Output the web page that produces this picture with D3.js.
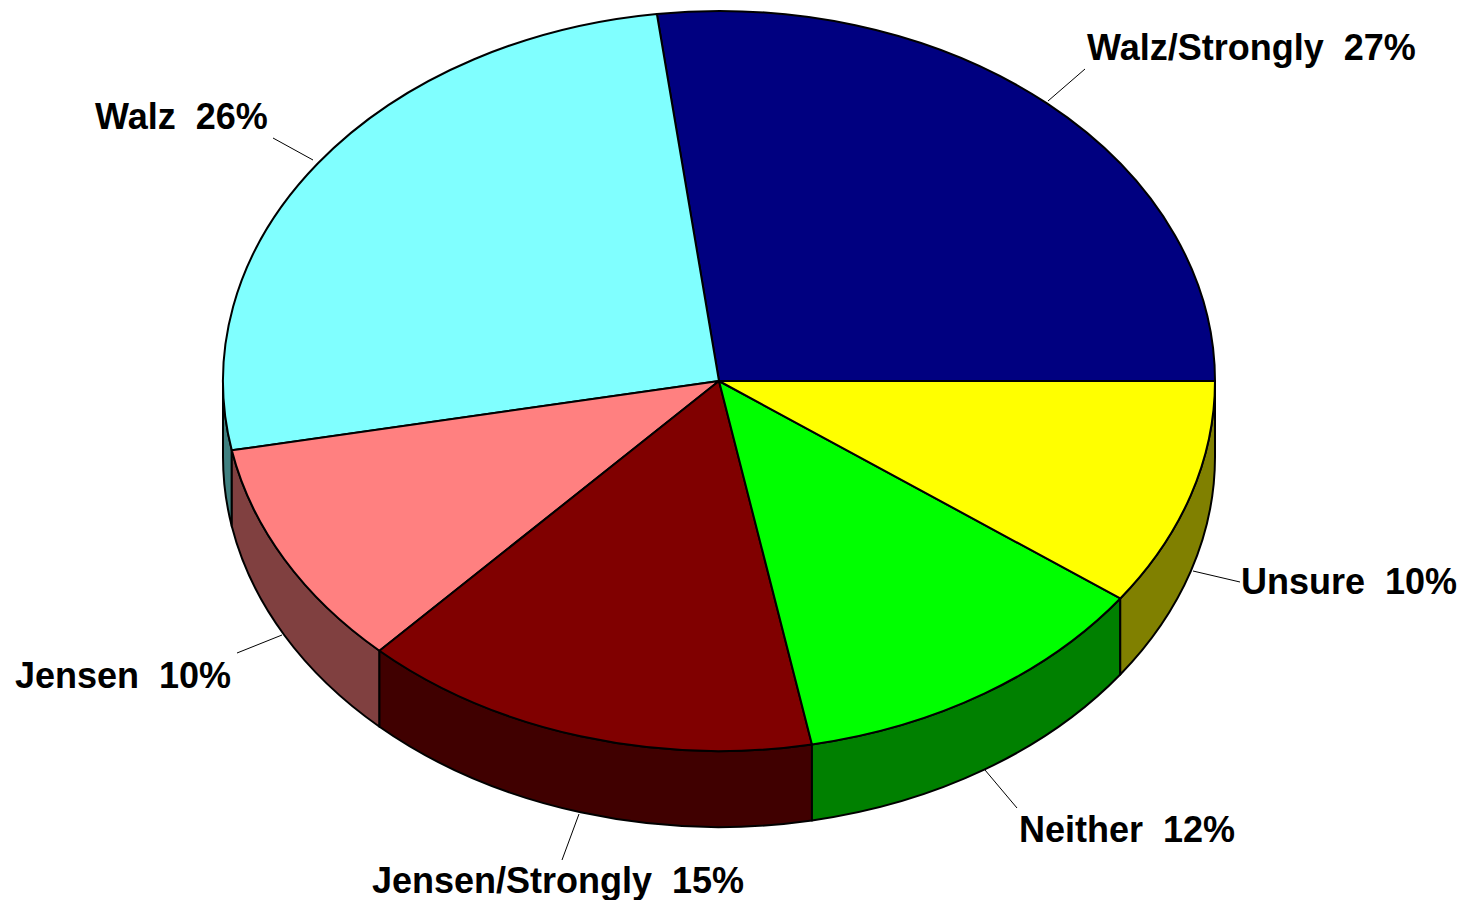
<!DOCTYPE html>
<html>
<head>
<meta charset="utf-8">
<script src="https://cdn.jsdelivr.net/npm/d3@7"></script>
<style>
  html, body { margin: 0; padding: 0; background: #fff; }
  svg { display: block; }
  text { font-family: "Liberation Sans", Arial, sans-serif; font-weight: bold; white-space: pre; }
</style>
</head>
<body>
<svg id="chart" width="1470" height="900"></svg>
<script>
// Survey responses
const categories = ["Walz/Strongly", "Walz", "Jensen", "Jensen/Strongly", "Neither", "Unsure"];
const values = [27, 26, 10, 15, 12, 10];
const labels = ["Walz/Strongly  27%", "Walz  26%", "Jensen  10%", "Jensen/Strongly  15%", "Neither  12%", "Unsure  10%"];
const topColors = ["#000080", "#80FFFF", "#FF8080", "#800000", "#00FF00", "#FFFF00"];
const sideColors = ["#000040", "#408080", "#804040", "#400000", "#008000", "#808000"];

// Label anchor points and leader lines (label box start, leader from/to)
const labelPos = [
  { x: 1087, y: 60, lx1: 1048, ly1: 101, lx2: 1085, ly2: 69 },
  { x: 95, y: 129, lx1: 313, ly1: 160, lx2: 273, ly2: 138 },
  { x: 15, y: 688, lx1: 282, ly1: 635, lx2: 237, ly2: 653 },
  { x: 372, y: 893, lx1: 579, ly1: 814, lx2: 562, ly2: 860 },
  { x: 1019, y: 842, lx1: 985, ly1: 770, lx2: 1017, ly2: 808 },
  { x: 1241, y: 594, lx1: 1193, ly1: 571, lx2: 1240, ly2: 582 }
];

const cx = 719, cy = 381, rx = 496, ry = 370, depth = 76;
const svg = d3.select("#chart");

// Angles run counter-clockwise from 3 o'clock on the tilted ellipse
const pie = d3.pie().sort(null).startAngle(0).endAngle(2 * Math.PI);
const arcs = pie(values);

const pt = (t, dy = 0) => [cx + rx * Math.cos(t), cy - ry * Math.sin(t) + dy];

function topPath(a0, a1) {
  const p = d3.path();
  const s = pt(a0), e = pt(a1);
  p.moveTo(cx, cy);
  p.lineTo(s[0], s[1]);
  const large = (a1 - a0) > Math.PI ? 1 : 0;
  return p.toString() + ` A${rx},${ry} 0 ${large} 0 ${e[0]},${e[1]} Z`;
}

function sidePath(a0, a1) {
  // Only the front half (angles between PI and 2PI) shows its outer wall
  const s0 = Math.max(a0, Math.PI), s1 = Math.min(a1, 2 * Math.PI);
  if (s1 <= s0) return null;
  const A = pt(s0), B = pt(s1), C = pt(s1, depth), D = pt(s0, depth);
  return `M${A[0]},${A[1]} A${rx},${ry} 0 0 0 ${B[0]},${B[1]} L${C[0]},${C[1]} A${rx},${ry} 0 0 1 ${D[0]},${D[1]} Z`;
}

const g = svg.append("g");

g.selectAll("path.side")
  .data(arcs.filter(d => sidePath(d.startAngle, d.endAngle)))
  .join("path")
  .attr("class", "side")
  .attr("d", d => sidePath(d.startAngle, d.endAngle))
  .attr("fill", d => sideColors[d.index])
  .attr("stroke", "#000")
  .attr("stroke-width", 2)
  .attr("stroke-linejoin", "round");

g.selectAll("path.top")
  .data(arcs)
  .join("path")
  .attr("class", "top")
  .attr("d", d => topPath(d.startAngle, d.endAngle))
  .attr("fill", d => topColors[d.index])
  .attr("stroke", "#000")
  .attr("stroke-width", 2)
  .attr("stroke-linejoin", "round");

// Leader lines
svg.selectAll("line.leader")
  .data(labelPos)
  .join("line")
  .attr("class", "leader")
  .attr("x1", d => d.lx1).attr("y1", d => d.ly1)
  .attr("x2", d => d.lx2).attr("y2", d => d.ly2)
  .attr("stroke", "#000")
  .attr("stroke-width", 1);

// Labels
svg.selectAll("text.lbl")
  .data(labels)
  .join("text")
  .attr("class", "lbl")
  .attr("x", (d, i) => labelPos[i].x)
  .attr("y", (d, i) => labelPos[i].y)
  .attr("font-size", 36)
  .attr("fill", "#000")
  .text(d => d);
</script>
</body>
</html>
